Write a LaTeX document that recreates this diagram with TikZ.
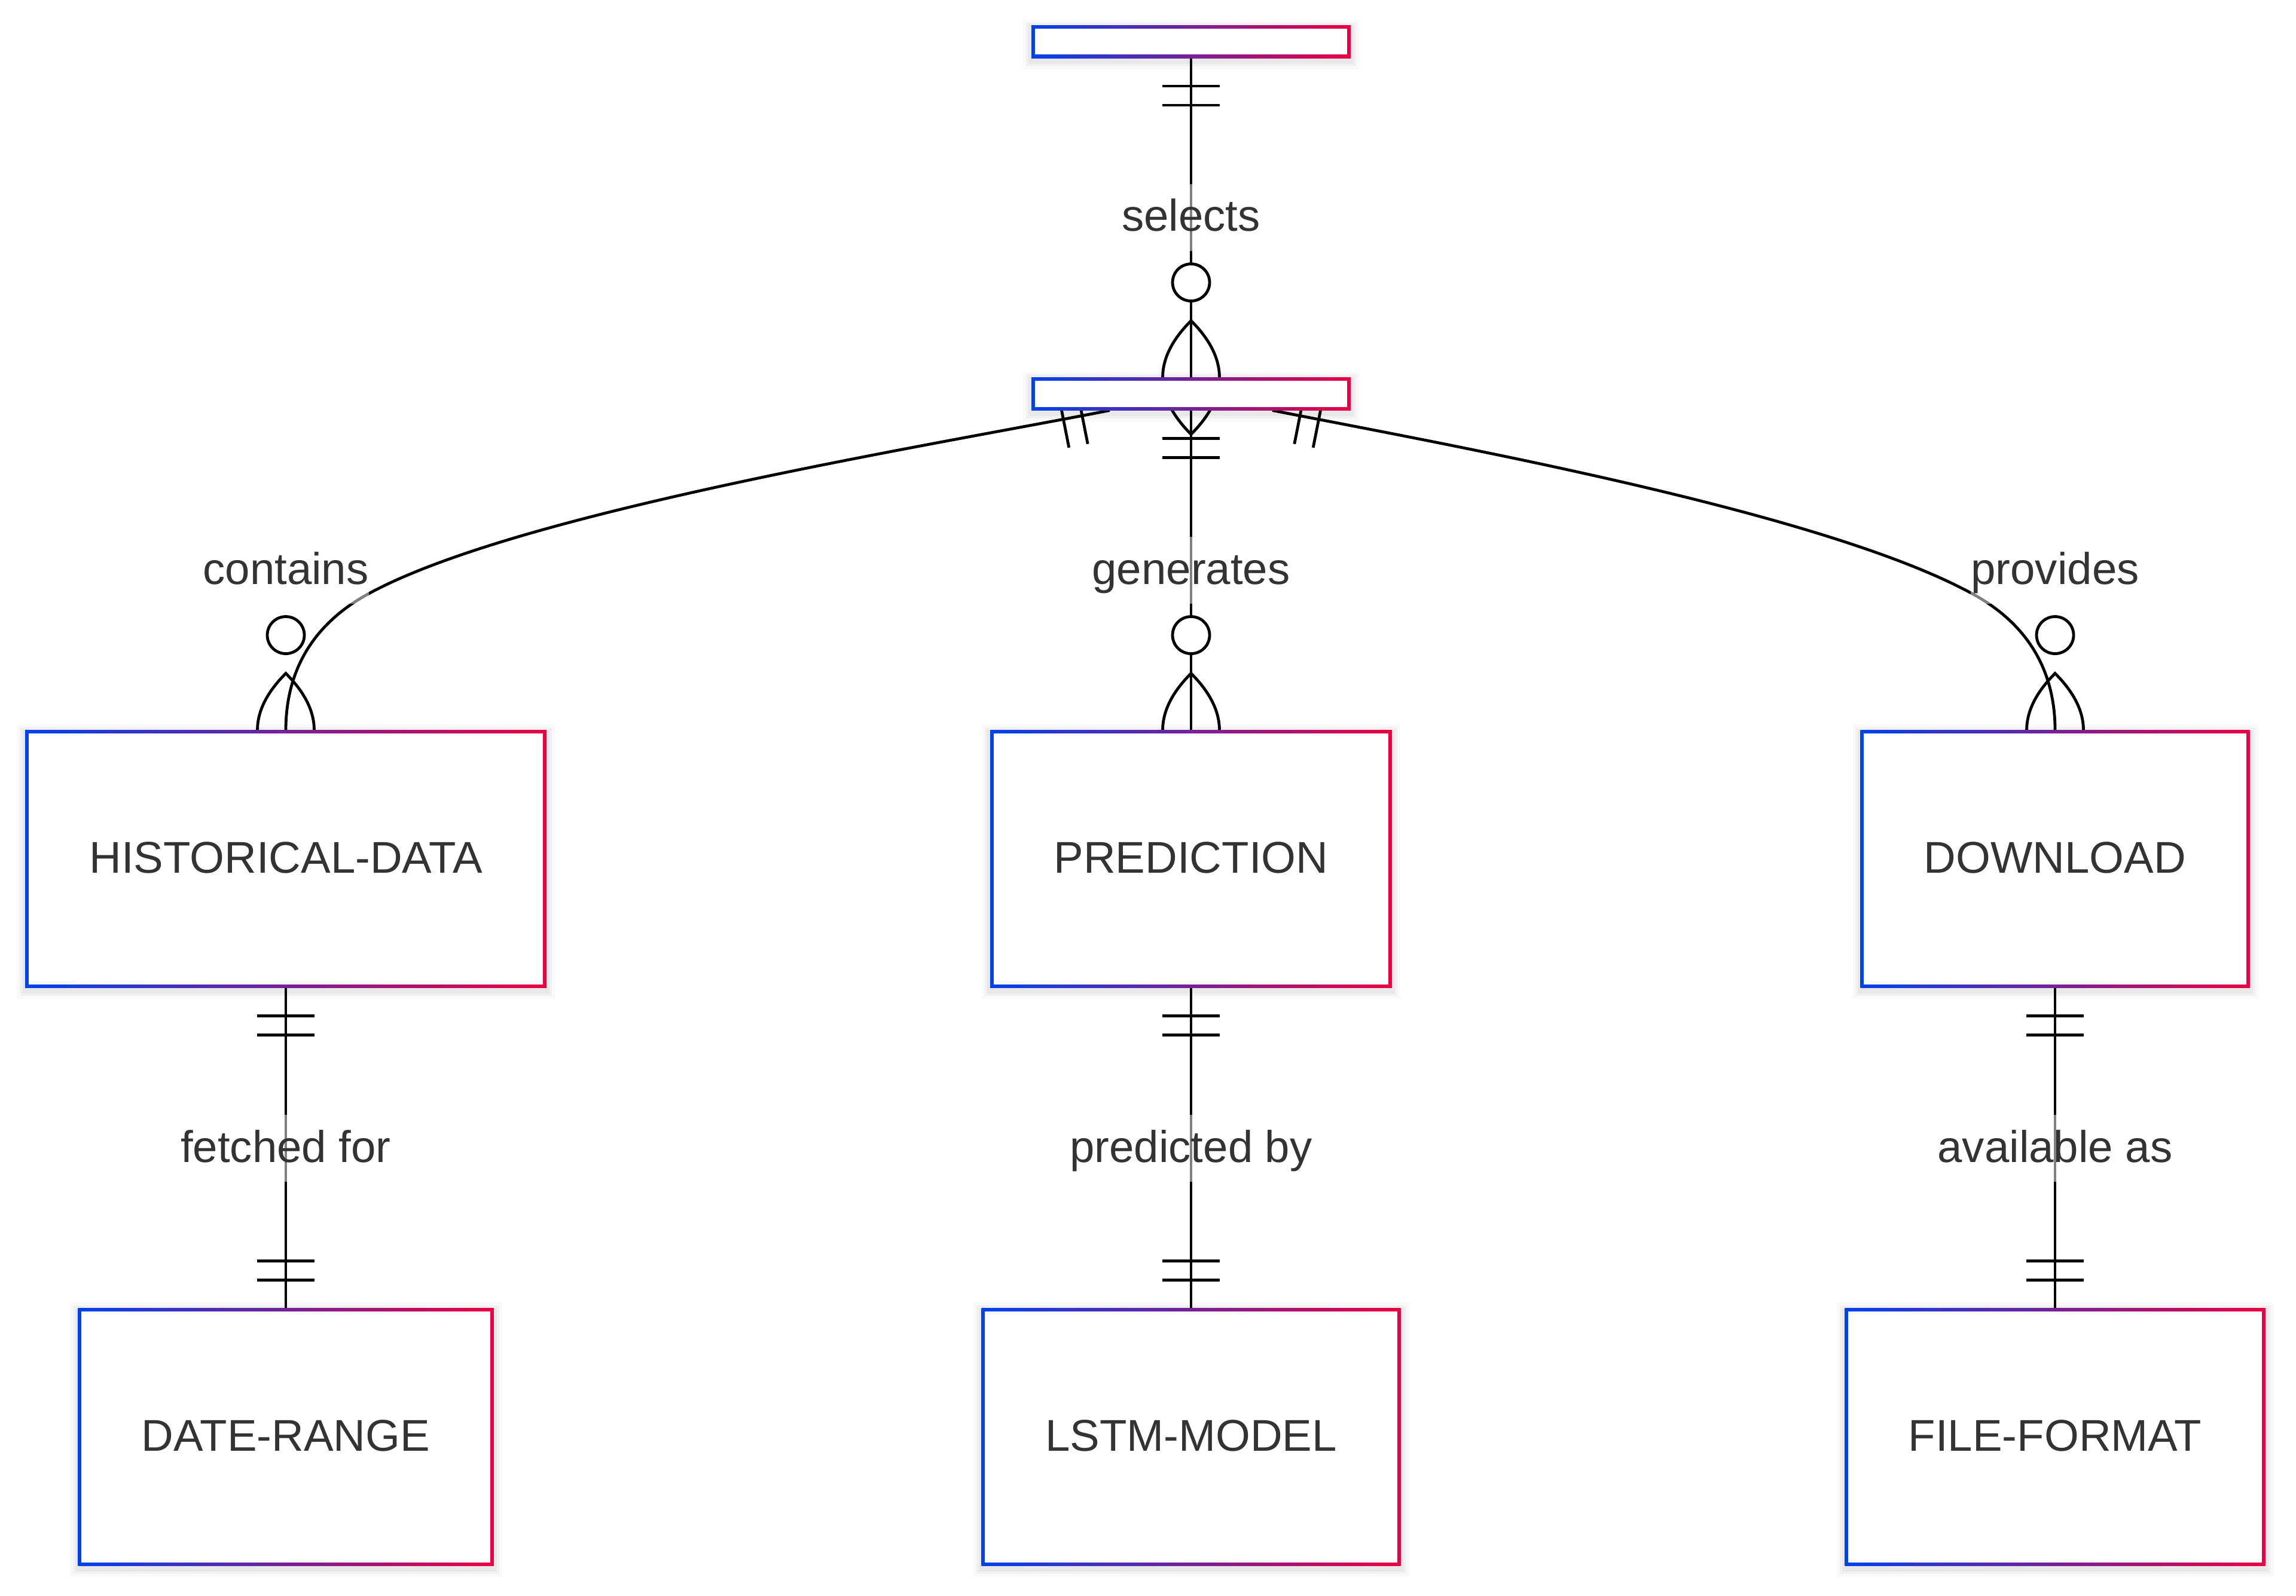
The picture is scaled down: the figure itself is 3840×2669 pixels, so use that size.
\documentclass[tikz,border=0pt]{standalone}
\usepackage{fontspec}
\setmainfont{Liberation Sans}
\pgfdeclarelayer{paper}
\pgfdeclarelayer{edges}
\pgfsetlayers{paper,edges,main}
\definecolor{gA}{HTML}{0042EB}
\definecolor{gB}{HTML}{EB0042}
\definecolor{txt}{HTML}{333333}
\newcommand{\erbarsdown}[1]{\draw[rel] ([shift={(-48,47)}]#1) -- ([shift={(48,47)}]#1) ([shift={(-48,79)}]#1) -- ([shift={(48,79)}]#1);}
\newcommand{\erbarsup}[1]{\draw[rel] ([shift={(-48,-47)}]#1) -- ([shift={(48,-47)}]#1) ([shift={(-48,-79)}]#1) -- ([shift={(48,-79)}]#1);}
\newcommand{\ermany}[1]{\begin{scope}[shift={(#1)}]
  \draw[rel] (0,-95) .. controls (63.3,-31.7) and (63.3,31.7) .. (0,95) .. controls (-63.3,31.7) and (-63.3,-31.7) .. cycle;
  \draw[rel,fill=white] (0,-159) circle[radius=7.75pt];
\end{scope}}
\begin{document}
\begin{tikzpicture}[x=0.25pt, y=-0.25pt,
  rel/.style={line width=1.2pt, draw=black},
  efont/.style={font=\fontsize{18.6}{22}\selectfont},
  softshadow/.style={
    preaction={draw=black, draw opacity=0.025, line width=7pt, transform canvas={yshift=-1.2pt}},
    preaction={draw=black, draw opacity=0.03, line width=4.5pt, transform canvas={yshift=-1.2pt}},
    preaction={draw=black, draw opacity=0.035, line width=2.5pt, transform canvas={yshift=-1.2pt}}},
  ent/.style={rectangle, inner sep=0pt, outer sep=0pt, left color=gA, right color=gB,
    text=txt, efont, text height=17pt, text depth=5.5pt, softshadow,
    path picture={\fill[white] ([xshift=1.45pt,yshift=1.45pt]path picture bounding box.south west) rectangle ([xshift=-1.45pt,yshift=-1.45pt]path picture bounding box.north east);}},
  thin ent/.style={ent, text height=0pt, text depth=0pt, minimum width=133.5pt, minimum height=13.75pt},
  lbl/.style={fill=white, fill opacity=0.5, text opacity=1, text=txt, efont,
    inner xsep=0pt, inner ysep=2.75pt, text height=17pt, text depth=5.5pt}]
\useasboundingbox (0,0) rectangle (3840,2669);
\begin{pgfonlayer}{paper}
  \fill[white] (0,0) rectangle (3840,2669);
\end{pgfonlayer}
% entities
\node[thin ent] (E1) at (1992,69.5) {};
\node[thin ent] (E2) at (1992,659) {};
\node[ent, minimum width=218pt, minimum height=107.75pt] (HIST) at (478,1437) {HISTORICAL-DATA};
\node[ent, minimum width=168pt, minimum height=107.75pt] (PRED) at (1992,1437) {PREDICTION};
\node[ent, minimum width=162.75pt, minimum height=107.75pt] (DOWN) at (3437,1437) {DOWNLOAD};
\node[ent, minimum width=173.75pt, minimum height=107.75pt] (DATE) at (478,2404) {DATE-RANGE};
\node[ent, minimum width=175.25pt, minimum height=107.75pt] (LSTM) at (1992,2404) {LSTM-MODEL};
\node[ent, minimum width=175.75pt, minimum height=107.75pt] (FILE) at (3437,2404) {FILE-FORMAT};
% relationships
\begin{pgfonlayer}{edges}
  \coordinate (cL) at ([xshift=-34pt]E2.south);
  \coordinate (cR) at ([xshift=34pt]E2.south);
  \draw[rel] (E1.south) -- (E2.north);
  \draw[rel] (E2.south) -- (PRED.north);
  \draw[rel] (cL) .. controls (1561.7,744.4) and (865,856.5) .. (615,994)
                  .. controls (535,1038) and (478,1110) .. (HIST.north);
  \draw[rel] (cR) .. controls (2422.3,744.4) and (3050,856.5) .. (3300,994)
                  .. controls (3380,1038) and (3437,1110) .. (DOWN.north);
  \draw[rel] (HIST.south) -- (DATE.north);
  \draw[rel] (PRED.south) -- (LSTM.north);
  \draw[rel] (DOWN.south) -- (FILE.north);
  % markers
  \erbarsdown{E1.south}
  \erbarsdown{E2.south}
  \draw[rel] (cL) ++(-55.4,-38.0) -- ++(18.6,94.2) (cL) ++(-86.8,-31.9) -- ++(18.6,94.2);
  \draw[rel] (cR) ++(55.4,-38.0) -- ++(-18.6,94.2) (cR) ++(86.8,-31.9) -- ++(-18.6,94.2);
  \ermany{E2.north}
  \ermany{PRED.north}
  \ermany{HIST.north}
  \ermany{DOWN.north}
  \erbarsdown{HIST.south}
  \erbarsdown{PRED.south}
  \erbarsdown{DOWN.south}
  \erbarsup{DATE.north}
  \erbarsup{LSTM.north}
  \erbarsup{FILE.north}
\end{pgfonlayer}
% labels
\node[lbl] (l1) at (1992,363.5) {selects};
\node[lbl] (l2) at (1992,954) {generates};
\node[lbl] (l3) at (478,954) {contains};
\node[lbl] (l4) at (3437,954) {provides};
\node[lbl] (l5) at (478,1921) {fetched for};
\node[lbl] (l6) at (1992,1921) {predicted by};
\node[lbl] (l7) at (3437,1921) {available as};
\end{tikzpicture}
\end{document}
